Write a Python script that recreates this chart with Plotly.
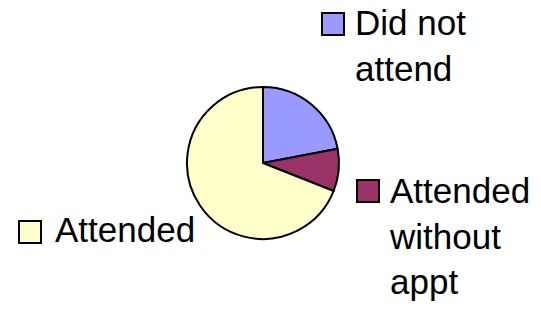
import plotly.graph_objects as go

labels = ["Did not attend", "Attended without appt", "Attended"]
values = [22, 9, 69]
colors = ["#9999FF", "#993366", "#FFFFCC"]
display_text = ["Did not<br>attend", "Attended<br>without<br>appt", "Attended"]

W, H = 541, 309
FONT = "Liberation Sans, Arial, sans-serif"
FS = 35


def px(x):
    return x / W


def py(y):
    return 1 - y / H


fig = go.Figure()
fig.add_trace(go.Pie(
    labels=labels, values=values, sort=False, direction="clockwise", rotation=0,
    marker=dict(colors=colors, line=dict(color="black", width=2)),
    textinfo="none", hoverinfo="label+percent", showlegend=False,
    domain=dict(x=[px(187), px(339)], y=[py(239), py(87)]),
))

key_pos = [(322, 13), (357, 180), (19, 221)]
text_pos = [(353, 1), (387, 169), (53, 208)]
for lab, col, (kx, ky), (tx, ty) in zip(display_text, colors, key_pos, text_pos):
    fig.add_shape(type="rect", xref="paper", yref="paper",
                  x0=px(kx), x1=px(kx + 22), y0=py(ky), y1=py(ky + 22),
                  fillcolor=col, line=dict(color="black", width=2))
    fig.add_annotation(text=lab, xref="paper", yref="paper", x=px(tx), y=py(ty),
                       xanchor="left", yanchor="top", align="left", showarrow=False,
                       font=dict(family=FONT, size=FS, color="black"))

fig.update_layout(width=W, height=H, margin=dict(l=0, r=0, t=0, b=0),
                  paper_bgcolor="white", plot_bgcolor="white")
fig.write_html("out.html", config={"displayModeBar": False},
               post_script="document.body.style.margin='0';document.body.style.overflow='hidden';")
